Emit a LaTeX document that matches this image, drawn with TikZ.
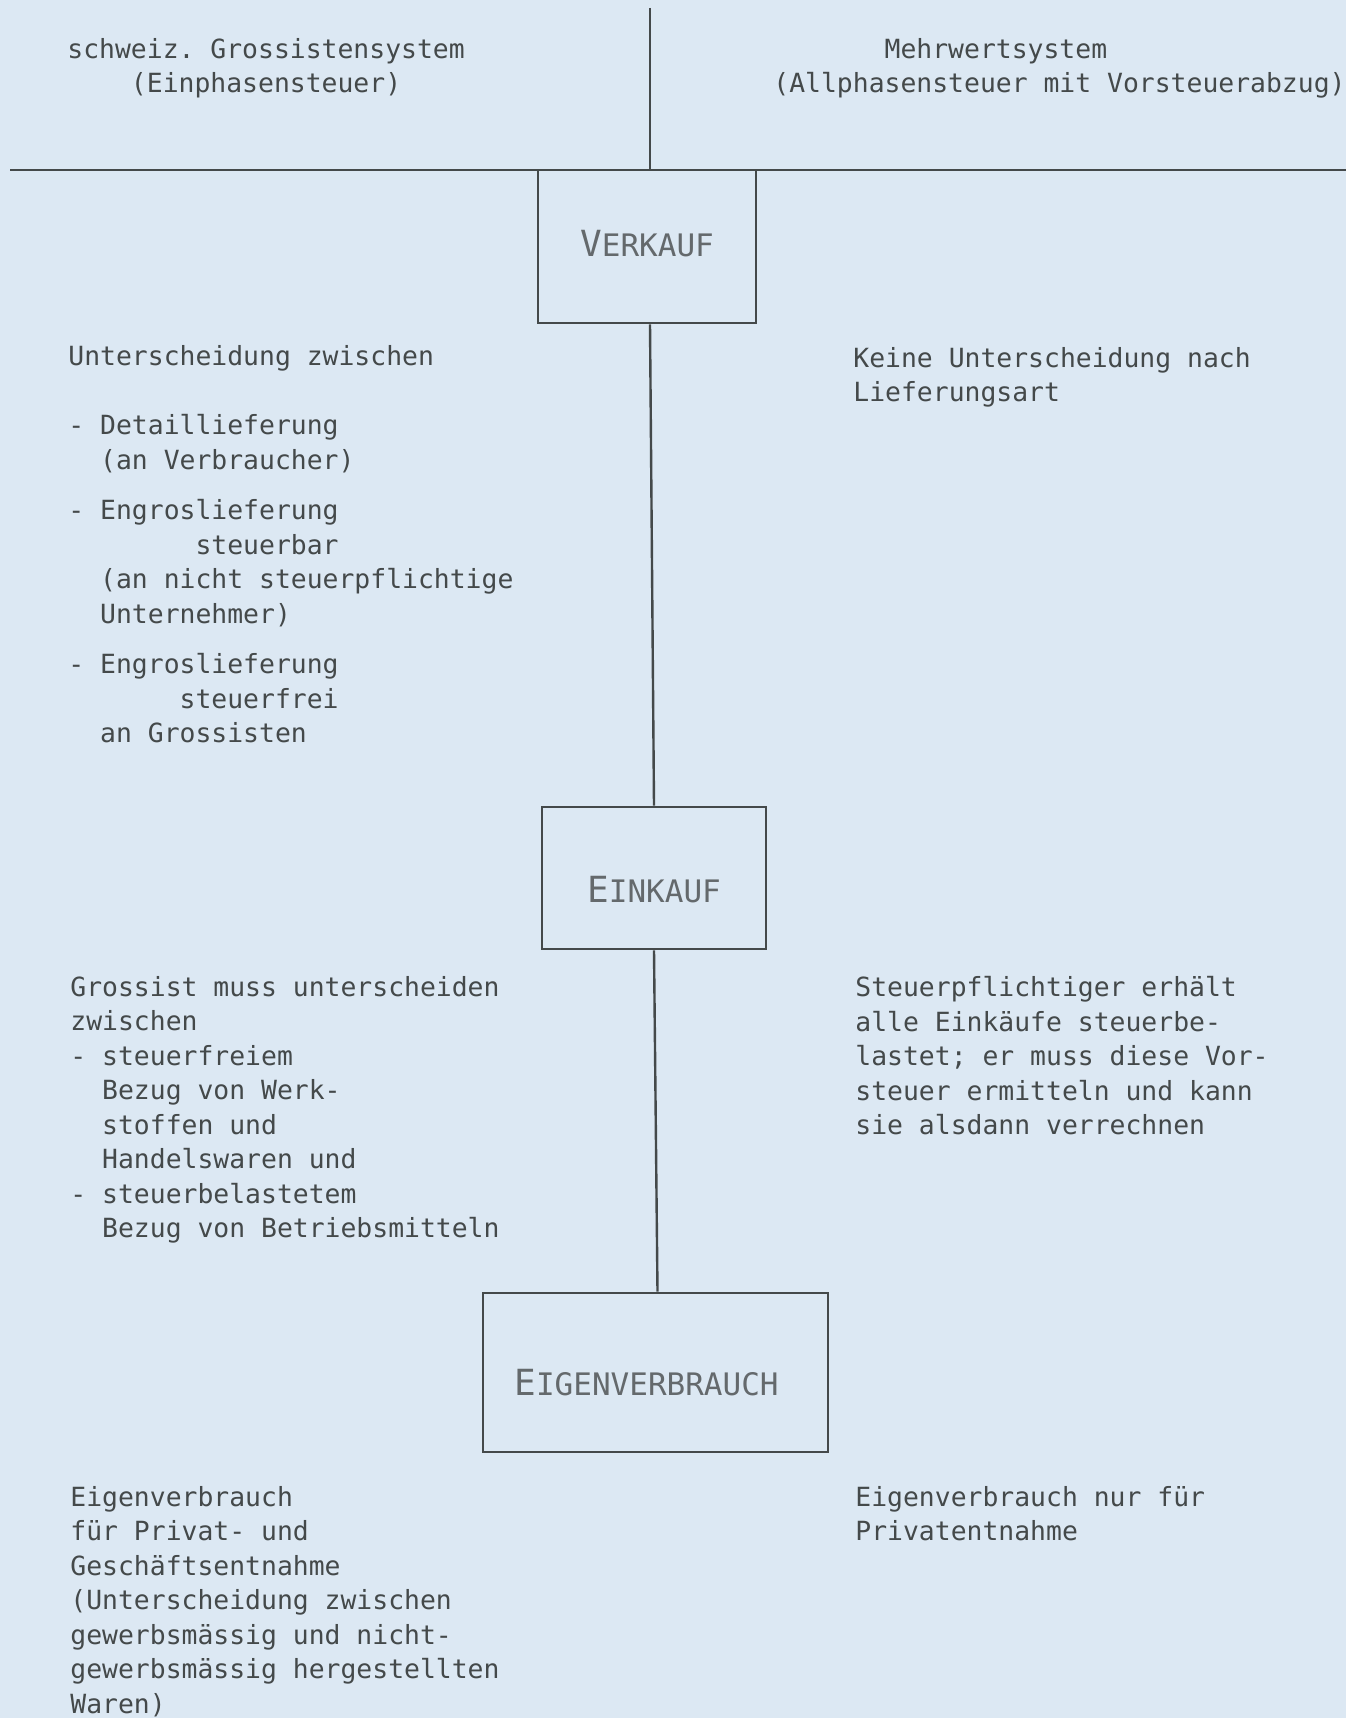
\documentclass[tikz,border=0pt]{standalone}
\usepackage{fontspec}
\setmonofont{DejaVu Sans Mono}
\usetikzlibrary{positioning}
\definecolor{papier}{RGB}{220,232,243}
\definecolor{tinte}{RGB}{68,73,74}
\definecolor{blass}{RGB}{100,105,108}
\newcommand{\ein}[1]{\hspace*{#1\dimexpr 0.602em\relax}}
\newcommand{\kap}[2]{{\fontsize{18}{19}\selectfont #1}{\fontsize{15.5}{19}\selectfont #2}}
\tikzset{
  txt/.style={anchor=north west, inner sep=0pt, align=left, text=tinte,
    font=\ttfamily\fontsize{13.2}{17.25}\selectfont},
  feld/.style={draw=tinte, line width=1.3pt, inner sep=0pt},
  feldtext/.style={text=blass, font=\ttfamily, inner sep=0pt},
  strich/.style={draw=tinte, line width=1.2pt}
}
\begin{document}
\begin{tikzpicture}[x=0.5pt, y=-0.5pt]
  \fill[papier] (0,0) rectangle (1346,1718);
  \useasboundingbox (0,0) rectangle (1346,1718);

  % Kopf
  \coordinate (oben) at (650,8);
  \coordinate (mitte) at (650,170);
  \coordinate (links) at (10,170);
  \coordinate (rechts) at (1346,170);
  \draw[strich] (oben) -- (mitte);
  \draw[strich] (links) -- (rechts);
  \node[txt] (gross) at (67,38) {schweiz. Grossistensystem\\\ein{4}(Einphasensteuer)};
  \node[txt] (mwst) at (773,38) {\ein{7}Mehrwertsystem\\(Allphasensteuer mit Vorsteuerabzug)};

  % Kaestchen
  \node[feld, minimum width=109pt, minimum height=76.5pt,
    label={[feldtext, yshift=1.5pt]center:\kap{V}{ERKAUF}}] (verkauf) at (647,246.5) {};
  \node[feld, minimum width=112pt, minimum height=71pt,
    label={[feldtext, yshift=-6pt]center:\kap{E}{INKAUF}}] (einkauf) at (654,878) {};
  \node[feld, minimum width=172.5pt, minimum height=79.5pt,
    label={[feldtext, xshift=-4.5pt, yshift=-5pt]center:\kap{E}{IGENVERBRAUCH}}] (eigen) at (655.5,1372.5) {};
  \draw[strich] ([xshift=1.5pt]verkauf.south) -- (einkauf.north);
  \draw[strich] (einkauf.south) -- ([xshift=1pt]eigen.north);

  % Verkauf
  \node[txt] (vlinks) at (68,345) {Unterscheidung zwischen\\[17.5pt]
    - Detaillieferung\\\ein{2}(an Verbraucher)\\[8pt]
    - Engroslieferung\\\ein{8}steuerbar\\\ein{2}(an nicht steuerpflichtige\\\ein{2}Unternehmer)\\[8pt]
    - Engroslieferung\\\ein{7}steuerfrei\\\ein{2}an Grossisten};
  \node[txt] (vrechts) at (853,347) {Keine Unterscheidung nach\\Lieferungsart};

  % Einkauf
  \node[txt] (elinks) at (70,976) {Grossist muss unterscheiden\\zwischen\\
    - steuerfreiem\\\ein{2}Bezug von Werk-\\\ein{2}stoffen und\\\ein{2}Handelswaren und\\
    - steuerbelastetem\\\ein{2}Bezug von Betriebsmitteln};
  \node[txt] (erechts) at (855,976) {Steuerpflichtiger erhält\\alle Einkäufe steuerbe-\\lastet; er muss diese Vor-\\steuer ermitteln und kann\\sie alsdann verrechnen};

  % Eigenverbrauch
  \node[txt] (glinks) at (70,1486) {Eigenverbrauch\\für Privat- und\\Geschäftsentnahme\\(Unterscheidung zwischen\\gewerbsmässig und nicht-\\gewerbsmässig hergestellten\\Waren)};
  \node[txt] (grechts) at (855,1486) {Eigenverbrauch nur für\\Privatentnahme};
\end{tikzpicture}
\end{document}
